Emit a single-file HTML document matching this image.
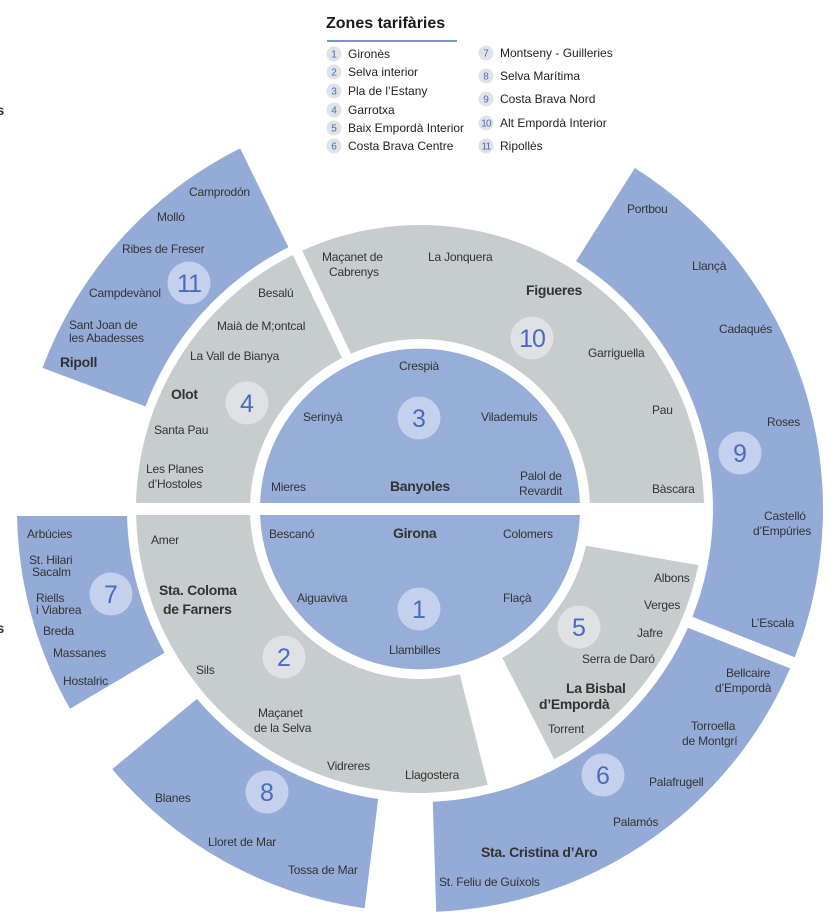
<!DOCTYPE html>
<html>
<head>
<meta charset="utf-8">
<style>
html,body{margin:0;padding:0;background:#fff;}
svg{display:block;}
text{font-family:"Liberation Sans",Arial,sans-serif;}
.l{font-size:12px;fill:#333;letter-spacing:-0.2px;}
.b{font-size:14px;font-weight:bold;fill:#333;letter-spacing:-0.3px;}
.n{font-size:25px;fill:#4a6cbf;text-anchor:middle;}
.lg{font-size:12px;fill:#222;}
.ln{font-size:10px;fill:#4a6cbf;text-anchor:middle;}
</style>
</head>
<body>
<svg width="835" height="916" viewBox="0 0 835 916" xmlns="http://www.w3.org/2000/svg">
<!-- Legend -->
<text x="326" y="28" style="font-size:16px;font-weight:bold;fill:#1a1a1a;">Zones tarifàries</text>
<rect x="327" y="40" width="130" height="2" fill="#7b95cc"/>
<g>
<circle cx="334" cy="54" r="7.5" fill="#dfe2e6"/><text class="ln" x="334" y="57.5">1</text><text class="lg" x="348" y="58">Gironès</text>
<circle cx="334" cy="72" r="7.5" fill="#dfe2e6"/><text class="ln" x="334" y="75.5">2</text><text class="lg" x="348" y="76">Selva interior</text>
<circle cx="334" cy="91" r="7.5" fill="#dfe2e6"/><text class="ln" x="334" y="94.5">3</text><text class="lg" x="348" y="95">Pla de l’Estany</text>
<circle cx="334" cy="110" r="7.5" fill="#dfe2e6"/><text class="ln" x="334" y="113.5">4</text><text class="lg" x="348" y="114">Garrotxa</text>
<circle cx="334" cy="128" r="7.5" fill="#dfe2e6"/><text class="ln" x="334" y="131.5">5</text><text class="lg" x="348" y="132">Baix Empordà Interior</text>
<circle cx="334" cy="146" r="7.5" fill="#dfe2e6"/><text class="ln" x="334" y="149.5">6</text><text class="lg" x="348" y="150">Costa Brava Centre</text>
<circle cx="486" cy="53" r="7.5" fill="#dfe2e6"/><text class="ln" x="486" y="56.5">7</text><text class="lg" x="500" y="57">Montseny - Guilleries</text>
<circle cx="486" cy="76" r="7.5" fill="#dfe2e6"/><text class="ln" x="486" y="79.5">8</text><text class="lg" x="500" y="80">Selva Marítima</text>
<circle cx="486" cy="99" r="7.5" fill="#dfe2e6"/><text class="ln" x="486" y="102.5">9</text><text class="lg" x="500" y="103">Costa Brava Nord</text>
<circle cx="486" cy="123" r="7.5" fill="#dfe2e6"/><text class="ln" x="486" y="126.5" style="letter-spacing:-0.8px">10</text><text class="lg" x="500" y="127">Alt Empordà Interior</text>
<circle cx="486" cy="146" r="7.5" fill="#dfe2e6"/><text class="ln" x="486" y="149.5" style="letter-spacing:-0.8px">11</text><text class="lg" x="500" y="150">Ripollès</text>
</g>

<!-- cropped letters at left edge -->
<text x="4" y="115" text-anchor="end" class="b">s</text>
<text x="4" y="633" text-anchor="end" class="b">s</text>

<!-- Zones -->
<path d="M260.1 503 A160 160 0 0 1 579.9 503 Z" fill="#97aed9"/>
<path d="M260.1 515 A160 160 0 0 0 579.9 515 Z" fill="#97aed9"/>
<path d="M136.06 503 A284 284 0 0 1 292.8 255 L342 357.9 A170 170 0 0 0 250.1 503 Z" fill="#c7cccc"/>
<path d="M302.2 250.6 A284 284 0 0 1 703.94 503 L589.9 503 A170 170 0 0 0 350.9 353.7 Z" fill="#c7cccc"/>
<path d="M136.06 515 A284 284 0 0 0 487.7 784.8 L459.7 674.3 A170 170 0 0 1 250.1 515 Z" fill="#c7cccc"/>
<path d="M698.4 565.1 A284 284 0 0 1 554.2 759.3 L502.3 657.8 A170 170 0 0 0 586 545.8 Z" fill="#c7cccc"/>
<path d="M42.5 367.9 A403 403 0 0 1 240.2 148.4 L288.4 247.2 A293 293 0 0 0 145.5 406.4 Z" fill="#94abd8"/>
<path d="M634.8 168 A403 403 0 0 1 794.7 657.3 L692.4 616.9 A293 293 0 0 0 576.1 261.1 Z" fill="#94abd8"/>
<path d="M790.1 668.4 A403 403 0 0 1 436.2 911.7 L432.8 801.7 A293 293 0 0 0 687.9 627.7 Z" fill="#94abd8"/>
<path d="M364.6 908.2 A403 403 0 0 1 112.2 769.1 L196.9 698.9 A293 293 0 0 0 378.2 799 Z" fill="#94abd8"/>
<path d="M17.06 516 A403 403 0 0 0 70 708.7 L164.7 652.8 A293 293 0 0 1 127.08 516 Z" fill="#94abd8"/>

<!-- Badges -->
<circle cx="189" cy="283" r="21.5" fill="#c5d0ec"/><text class="n" x="189" y="292" style="letter-spacing:-1px">11</text>
<circle cx="247" cy="403" r="21.5" fill="#dfe1e4"/><text class="n" x="247" y="412">4</text>
<circle cx="419" cy="418" r="21.5" fill="#c5d0ec"/><text class="n" x="419" y="427">3</text>
<circle cx="532" cy="338" r="21.5" fill="#dfe1e4"/><text class="n" x="532" y="347" style="letter-spacing:-1px">10</text>
<circle cx="740" cy="453" r="21.5" fill="#c5d0ec"/><text class="n" x="740" y="462">9</text>
<circle cx="111" cy="594" r="21.5" fill="#c5d0ec"/><text class="n" x="111" y="603">7</text>
<circle cx="284" cy="657" r="21.5" fill="#dfe1e4"/><text class="n" x="284" y="666">2</text>
<circle cx="267" cy="792" r="21.5" fill="#c5d0ec"/><text class="n" x="267" y="801">8</text>
<circle cx="419" cy="609" r="21.5" fill="#c5d0ec"/><text class="n" x="419" y="618">1</text>
<circle cx="579" cy="627" r="21.5" fill="#dfe1e4"/><text class="n" x="579" y="636">5</text>
<circle cx="603" cy="775" r="21.5" fill="#c5d0ec"/><text class="n" x="603" y="784">6</text>

<!-- Zone 11 labels -->
<text class="l" x="189" y="196">Camprodón</text>
<text class="l" x="157" y="221">Molló</text>
<text class="l" x="122" y="253">Ribes de Freser</text>
<text class="l" x="89" y="297">Campdevànol</text>
<text class="l" x="69" y="329">Sant Joan de</text>
<text class="l" x="69" y="342">les Abadesses</text>
<text class="b" x="60" y="367">Ripoll</text>

<!-- Zone 4 labels -->
<text class="l" x="258" y="297">Besalú</text>
<text class="l" x="217" y="330">Maià de M;ontcal</text>
<text class="l" x="190" y="360">La Vall de Bianya</text>
<text class="b" x="171" y="399">Olot</text>
<text class="l" x="154" y="434">Santa Pau</text>
<text class="l" x="146" y="473">Les Planes</text>
<text class="l" x="148" y="488">d’Hostoles</text>

<!-- Zone 10 labels -->
<text class="l" x="322" y="261">Maçanet de</text>
<text class="l" x="329" y="276">Cabrenys</text>
<text class="l" x="428" y="261">La Jonquera</text>
<text class="b" x="526" y="295">Figueres</text>
<text class="l" x="588" y="357">Garriguella</text>
<text class="l" x="652" y="414">Pau</text>
<text class="l" x="652" y="493">Bàscara</text>

<!-- Zone 3 labels -->
<text class="l" x="399" y="370">Crespià</text>
<text class="l" x="303" y="421">Serinyà</text>
<text class="l" x="481" y="421">Vilademuls</text>
<text class="l" x="271" y="491">Mieres</text>
<text class="b" x="390" y="491">Banyoles</text>
<text class="l" x="520" y="480">Palol de</text>
<text class="l" x="519" y="495">Revardit</text>

<!-- Zone 9 labels -->
<text class="l" x="627" y="213">Portbou</text>
<text class="l" x="692" y="270">Llançà</text>
<text class="l" x="719" y="333">Cadaqués</text>
<text class="l" x="767" y="426">Roses</text>
<text class="l" x="764" y="520">Castelló</text>
<text class="l" x="753" y="535">d’Empúries</text>
<text class="l" x="751" y="627">L’Escala</text>

<!-- Zone 7 labels -->
<text class="l" x="27" y="538">Arbúcies</text>
<text class="l" x="29" y="564">St. Hilari</text>
<text class="l" x="32" y="576">Sacalm</text>
<text class="l" x="36" y="602">Riells</text>
<text class="l" x="36" y="614">i Viabrea</text>
<text class="l" x="43" y="635">Breda</text>
<text class="l" x="53" y="657">Massanes</text>
<text class="l" x="63" y="685">Hostalric</text>

<!-- Zone 2 labels -->
<text class="l" x="151" y="544">Amer</text>
<text class="b" x="159" y="595">Sta. Coloma</text>
<text class="b" x="163" y="614">de Farners</text>
<text class="l" x="196" y="674">Sils</text>
<text class="l" x="258" y="717">Maçanet</text>
<text class="l" x="254" y="732">de la Selva</text>
<text class="l" x="327" y="770">Vidreres</text>
<text class="l" x="405" y="779">Llagostera</text>

<!-- Zone 1 labels -->
<text class="l" x="269" y="538">Bescanó</text>
<text class="b" x="393" y="538">Girona</text>
<text class="l" x="503" y="538">Colomers</text>
<text class="l" x="297" y="602">Aiguaviva</text>
<text class="l" x="503" y="602">Flaçà</text>
<text class="l" x="389" y="654">Llambilles</text>

<!-- Zone 8 labels -->
<text class="l" x="155" y="802">Blanes</text>
<text class="l" x="208" y="846">Lloret de Mar</text>
<text class="l" x="288" y="874">Tossa de Mar</text>

<!-- Zone 5 labels -->
<text class="l" x="654" y="582">Albons</text>
<text class="l" x="644" y="609">Verges</text>
<text class="l" x="637" y="637">Jafre</text>
<text class="l" x="582" y="663">Serra de Daró</text>
<text class="b" x="566" y="693">La Bisbal</text>
<text class="b" x="539" y="709">d’Empordà</text>
<text class="l" x="548" y="733">Torrent</text>

<!-- Zone 6 labels -->
<text class="l" x="726" y="677">Bellcaire</text>
<text class="l" x="715" y="692">d’Empordà</text>
<text class="l" x="691" y="730">Torroella</text>
<text class="l" x="682" y="745">de Montgrí</text>
<text class="l" x="649" y="786">Palafrugell</text>
<text class="l" x="613" y="826">Palamós</text>
<text class="b" x="481" y="857">Sta. Cristina d’Aro</text>
<text class="l" x="439" y="886">St. Feliu de Guíxols</text>
</svg>
</body>
</html>
